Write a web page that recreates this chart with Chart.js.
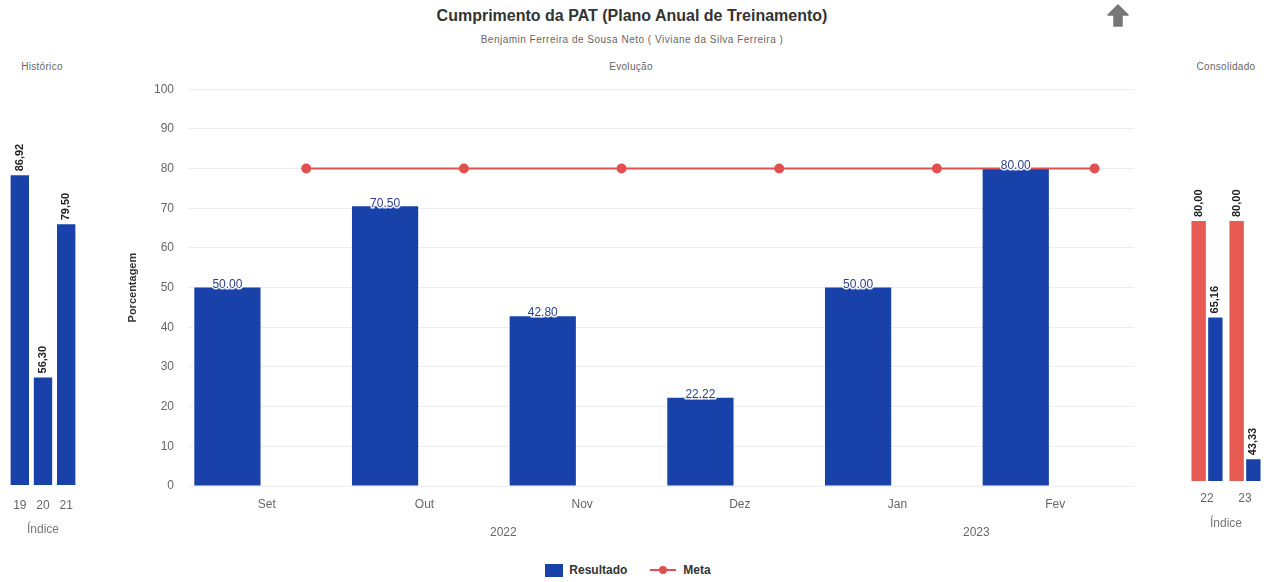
<!DOCTYPE html>
<html>
<head>
<meta charset="utf-8">
<script src="https://cdn.jsdelivr.net/npm/chart.js@4.4.0/dist/chart.umd.min.js"></script>
<style>
html,body{margin:0;padding:0;background:#fff;}
#wrap{position:relative;width:1266px;height:582px;overflow:hidden;font-family:"Liberation Sans",Arial,sans-serif;}
.abs{position:absolute;}
#title{left:0;width:1264px;top:7px;text-align:center;font-weight:bold;font-size:16px;color:#333;}
#subtitle{left:0;width:1264px;top:34px;text-align:center;font-size:10px;letter-spacing:0.5px;color:#666;}
.ctitle{top:61px;font-size:10px;letter-spacing:0.3px;color:#666;transform:translateX(-50%);white-space:nowrap;}
#legend{left:0;width:1256px;top:563px;display:flex;justify-content:center;gap:22px;font-weight:bold;font-size:12px;color:#333;}
.li{display:flex;align-items:center;gap:6px;}
</style>
</head>
<body>
<div id="wrap">
  <div id="title" class="abs">Cumprimento da PAT (Plano Anual de Treinamento)</div>
  <div id="subtitle" class="abs">Benjamin Ferreira de Sousa Neto ( Viviane da Silva Ferreira )</div>
  <svg class="abs" style="left:1107px;top:4px" width="22" height="24" viewBox="0 0 22 24">
    <polygon points="11,1 21,11 15,11 15,22 7,22 7,11 1,11" fill="#777" stroke="#777" stroke-width="1.5" stroke-linejoin="round"/>
  </svg>
  <div class="abs ctitle" style="left:42px">Histórico</div>
  <div class="abs ctitle" style="left:631px">Evolução</div>
  <div class="abs ctitle" style="left:1226px">Consolidado</div>
  <canvas id="hist" class="abs" style="left:0;top:79px" width="86" height="470"></canvas>
  <canvas id="main" class="abs" style="left:120px;top:68px" width="1024" height="481"></canvas>
  <canvas id="cons" class="abs" style="left:1184px;top:79px" width="82" height="470"></canvas>
  <div id="legend" class="abs"></div>
</div>
<script>
// ---------- data ----------
const months = ['Set', 'Out', 'Nov', 'Dez', 'Jan', 'Fev'];
const resultado = [50.00, 70.50, 42.80, 22.22, 50.00, 80.00];
const meta = [80.00, 80.00, 80.00, 80.00, 80.00, 80.00];
const years = ['2022', '2023'];
const monthsPerYear = [4, 2];
const yTickMin = 0, yTickMax = 100, yTickStep = 10;

const histLabels = ['19', '20', '21'];
const histValues = [86.92, 56.30, 79.50];

const consLabels = ['22', '23'];
const consMeta = [80.00, 80.00];
const consResultado = [65.16, 43.33];

// ---------- styles ----------
const BLUE = 'rgb(24,66,170)';
const RED = 'rgb(224,80,80)';
const RED_BAR = 'rgb(230,90,82)';
const FONT = '"Liberation Sans", Arial, sans-serif';
Chart.defaults.font.family = FONT;
Chart.defaults.color = '#666';

// each month is split into two slots: Resultado (left half) and Meta (right half)
const SLOT = 0.25;

// year tick positions: centre of each year's month span
const yearTicks = [];
{ let start = 0; monthsPerYear.forEach((n, k) => { yearTicks.push({ value: start + (n - 1) / 2, label: years[k] }); start += n; }); }

// value label plugin
const valueLabels = {
  id: 'valueLabels',
  afterDatasetsDraw(chart, args, opts) {
    if (!opts || !opts.datasets) return;
    const ctx = chart.ctx;
    opts.datasets.forEach(di => {
      const m = chart.getDatasetMeta(di);
      const ds = chart.data.datasets[di];
      m.data.forEach((el, i) => {
        const raw = ds.data[i];
        const v = (raw && typeof raw === 'object') ? raw.y : raw;
        if (v == null) return;
        let txt = v.toFixed(2);
        if (opts.comma) txt = txt.replace('.', ',');
        ctx.save();
        ctx.font = opts.font;
        ctx.fillStyle = opts.color;
        if (opts.rotate) {
          ctx.translate(el.x, el.y - opts.gap);
          ctx.rotate(-Math.PI / 2);
          ctx.textAlign = 'left';
          ctx.textBaseline = 'middle';
          ctx.fillText(txt, 0, 0);
        } else {
          ctx.textAlign = 'center';
          ctx.textBaseline = 'middle';
          ctx.lineWidth = 3;
          ctx.strokeStyle = 'rgba(255,255,255,0.9)';
          ctx.strokeText(txt, el.x, el.y - opts.gap);
          ctx.fillText(txt, el.x, el.y - opts.gap);
        }
        ctx.restore();
      });
    });
  }
};

// ---------- main chart ----------
new Chart(document.getElementById('main'), {
  type: 'bar',
  data: {
    labels: months,
    datasets: [
      { type: 'bar', label: 'Resultado', data: resultado.map((v, i) => ({ x: i - SLOT, y: v })), xAxisID: 'xYear',
        backgroundColor: BLUE, categoryPercentage: 0.5, barPercentage: 0.84, order: 2 },
      { type: 'line', label: 'Meta', data: meta.map((v, i) => ({ x: i + SLOT, y: v })), xAxisID: 'xYear',
        borderColor: RED, backgroundColor: RED, borderWidth: 2, pointRadius: 4, pointHoverRadius: 4, order: 1 }
    ]
  },
  options: {
    responsive: false,
    animation: false,
    layout: { padding: { top: 10, right: 10, bottom: 5, left: 0 } },
    plugins: {
      legend: { display: false },
      tooltip: { enabled: false },
      valueLabels: { datasets: [0], rotate: false, gap: 3, font: '12px ' + FONT, color: '#2b3f8c' }
    },
    scales: {
      y: {
        min: yTickMin, max: yTickMax,
        ticks: { stepSize: yTickStep, padding: 14, color: '#666', font: { size: 12 } },
        grid: { color: 'rgba(0,0,0,0.07)', drawTicks: false },
        border: { display: false },
        title: { display: true, text: 'Porcentagem', color: '#333', font: { size: 11, weight: 'bold' }, padding: { top: 6, bottom: 4 } },
        afterFit(s) { s.width = 68; }
      },
      x: {
        type: 'category', position: 'bottom', offset: true,
        grid: { display: false, drawTicks: false },
        border: { display: false },
        ticks: { padding: 11, color: '#666', font: { size: 12 } },
        afterFit(s) { s.height = 28; }
      },
      xYear: {
        type: 'linear', position: 'bottom', offset: false, min: -0.5, max: months.length - 0.5,
        grid: { display: false, drawTicks: false },
        border: { display: false },
        afterBuildTicks(s) { s.ticks = yearTicks.map(t => ({ value: t.value })); },
        ticks: { padding: 11, color: '#666', font: { size: 12 },
          callback(v) { const t = yearTicks.find(y => y.value === v); return t ? t.label : ''; } },
        afterFit(s) { s.height = 30; }
      }
    }
  },
  plugins: [valueLabels]
});

// ---------- side charts ----------
function sideOptions(padding, tickPad, titlePad, barPct) {
  return {
    responsive: false,
    animation: false,
    layout: { padding },
    datasets: { bar: { categoryPercentage: 0.88, barPercentage: barPct } },
    plugins: {
      legend: { display: false },
      tooltip: { enabled: false },
      valueLabels: { datasets: [], rotate: true, gap: 4, font: 'bold 11px ' + FONT, color: '#222', comma: true }
    },
    scales: {
      y: { display: false, min: 40, max: 100 },
      x: {
        grid: { display: false, drawTicks: false },
        border: { display: false },
        ticks: { padding: tickPad, color: '#666', font: { size: 12 } },
        title: { display: true, text: 'Índice', color: '#777', font: { size: 12 }, padding: { top: 4, bottom: titlePad } },
        afterFit(s) { s.height = 59; }
      }
    }
  };
}

const histOpts = sideOptions({ top: 10, left: 4, right: 5, bottom: 5 }, 13, 7, 0.9);
histOpts.plugins.valueLabels.datasets = [0];
new Chart(document.getElementById('hist'), {
  type: 'bar',
  data: { labels: histLabels, datasets: [{ label: 'Resultado', data: histValues, backgroundColor: BLUE }] },
  options: histOpts,
  plugins: [valueLabels]
});

const consOpts = sideOptions({ top: 12, left: 4, right: 2, bottom: 9 }, 10, 9, 0.86);
consOpts.plugins.valueLabels.datasets = [0, 1];
new Chart(document.getElementById('cons'), {
  type: 'bar',
  data: { labels: consLabels, datasets: [
    { label: 'Meta', data: consMeta, backgroundColor: RED_BAR },
    { label: 'Resultado', data: consResultado, backgroundColor: BLUE }
  ] },
  options: consOpts,
  plugins: [valueLabels]
});

// ---------- legend (built from main datasets) ----------
const legendItems = [
  { text: 'Resultado', kind: 'box', color: BLUE },
  { text: 'Meta', kind: 'line', color: RED }
];
const lg = document.getElementById('legend');
legendItems.forEach(it => {
  const d = document.createElement('div');
  d.className = 'li';
  if (it.kind === 'box') {
    d.innerHTML = '<span style="display:inline-block;width:18px;height:13px;background:' + it.color + '"></span>';
  } else {
    d.innerHTML = '<svg width="28" height="12"><line x1="1" y1="6" x2="27" y2="6" stroke="' + it.color + '" stroke-width="2"/><circle cx="14" cy="6" r="4" fill="' + it.color + '"/></svg>';
  }
  const s = document.createElement('span');
  s.textContent = it.text;
  d.appendChild(s);
  lg.appendChild(d);
});
</script>
</body>
</html>
